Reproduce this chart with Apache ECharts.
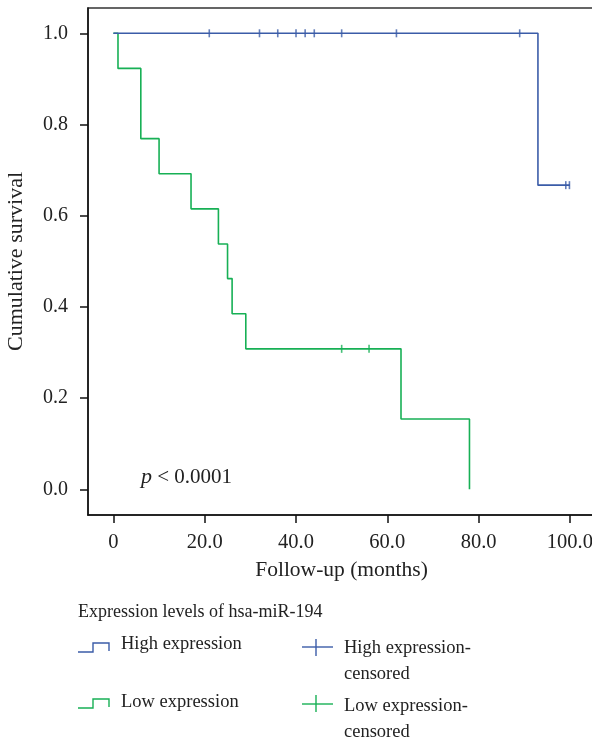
<!DOCTYPE html>
<html>
<head>
<meta charset="utf-8">
<script src="https://cdn.jsdelivr.net/npm/echarts@6/dist/echarts.min.js"></script>
<style>
html,body{margin:0;padding:0;background:#fff;}
#c{width:592px;height:737px;}
</style>
</head>
<body>
<div id="c"></div>
<script>
// Kaplan-Meier step data [month, survival]
var highSteps = [[0, 1.0], [93.0, 0.667], [100.0, 0.667]];
var highCensored = [[21, 1.0], [32, 1.0], [36, 1.0], [40, 1.0], [42, 1.0], [44, 1.0], [50, 1.0], [62, 1.0], [89, 1.0], [99.1, 0.667], [99.9, 0.667]];
var lowSteps = [[0, 1.0], [1, 0.923], [6, 0.769], [10, 0.692], [17, 0.615], [23, 0.538], [25, 0.462], [26, 0.385], [29, 0.308], [63, 0.154], [78, 0.0]];
var lowCensored = [[50, 0.308], [56, 0.308]];
var xTicks = [0, 20, 40, 60, 80, 100];
var xTickLabels = ['0', '20.0', '40.0', '60.0', '80.0', '100.0'];
var yTicks = [0, 0.2, 0.4, 0.6, 0.8, 1.0];
var yTickLabels = ['0.0', '0.2', '0.4', '0.6', '0.8', '1.0'];

var BLUE = '#3b5ca8';
var GREEN = '#17b055';
var FONT = '"Liberation Serif", "DejaVu Serif", serif';
var TXT = '#222';

var chart = echarts.init(document.getElementById('c'), null, {renderer: 'canvas'});
var xLabelMap = {}; xTicks.forEach(function(v, i){ xLabelMap[v] = xTickLabels[i]; });
var yLabelMap = {}; yTicks.forEach(function(v, i){ yLabelMap[v.toFixed(1)] = yTickLabels[i]; });

chart.setOption({
  animation: false,
  backgroundColor: '#fff',
  grid: {left: 88, top: 8, right: -3, height: 507, containLabel: false, outerBoundsMode: 'none',
         show: true, borderColor: '#333', borderWidth: 1.5, backgroundColor: 'transparent'},
  xAxis: {
    type: 'value', min: -5.57, max: 105.5,
    name: 'Follow-up (months)', nameLocation: 'middle', nameGap: 44,
    nameTextStyle: {fontFamily: FONT, fontSize: 21.5, color: TXT},
    axisLine: {show: true, onZero: false, lineStyle: {color: '#111', width: 1.5}},
    axisTick: {show: true, length: 8, inside: false, customValues: xTicks, lineStyle: {color: '#111', width: 1.5}},
    axisLabel: {customValues: xTicks, margin: 17, fontFamily: FONT, fontSize: 20.5, color: TXT,
      formatter: function(v){ return xLabelMap[Math.round(v)] || ''; }},
    splitLine: {show: false}
  },
  yAxis: {
    type: 'value', min: -0.0564, max: 1.0555,
    name: 'Cumulative survival', nameLocation: 'middle', nameGap: 61, nameRotate: 90,
    nameTextStyle: {fontFamily: FONT, fontSize: 22, color: TXT},
    axisLine: {show: true, onZero: false, lineStyle: {color: '#111', width: 1.5}},
    axisTick: {show: true, length: 8, customValues: yTicks, lineStyle: {color: '#111', width: 1.5}},
    axisLabel: {customValues: yTicks, margin: 20, fontFamily: FONT, fontSize: 20, color: TXT,
      formatter: function(v){ return yLabelMap[(Math.round(v*10)/10).toFixed(1)] || ''; }},
    splitLine: {show: false}
  },
  series: [
    {type: 'line', step: 'end', data: highSteps, showSymbol: false, symbol: 'none',
     lineStyle: {color: BLUE, width: 1.6}, z: 3},
    {type: 'line', step: 'end', data: lowSteps, showSymbol: false, symbol: 'none',
     lineStyle: {color: GREEN, width: 1.6}, z: 2},
    {type: 'scatter', data: highCensored, symbol: 'rect', symbolSize: [1.6, 8],
     itemStyle: {color: BLUE}, z: 4},
    {type: 'scatter', data: lowCensored, symbol: 'rect', symbolSize: [1.6, 8],
     itemStyle: {color: GREEN}, z: 4}
  ],
  graphic: [
    {type: 'text', left: 141, top: 466, style: {
      text: '{i|p} < 0.0001', fill: TXT,
      font: '21px ' + FONT,
      rich: {i: {fontStyle: 'italic', fontFamily: FONT, fontSize: 22, fill: TXT}}
    }},
    {type: 'text', left: 78, top: 603, style: {text: 'Expression levels of hsa-miR-194', font: '18px ' + FONT, fill: TXT}},
    // legend row 1
    {type: 'polyline', shape: {points: [[78, 652], [93, 652], [93, 643], [109, 643], [109, 651]]},
     style: {stroke: BLUE, lineWidth: 1.4, fill: null}},
    {type: 'text', left: 121, top: 635, style: {text: 'High expression', font: '18.5px ' + FONT, fill: TXT}},
    {type: 'line', shape: {x1: 302, y1: 647, x2: 333, y2: 647}, style: {stroke: BLUE, lineWidth: 1.4}},
    {type: 'line', shape: {x1: 316, y1: 639, x2: 316, y2: 656}, style: {stroke: BLUE, lineWidth: 1.4}},
    {type: 'text', left: 344, top: 635, style: {text: 'High expression-\ncensored', font: '18.5px ' + FONT, fill: TXT, lineHeight: 26}},
    // legend row 2
    {type: 'polyline', shape: {points: [[78, 708], [93, 708], [93, 699], [109, 699], [109, 707]]},
     style: {stroke: GREEN, lineWidth: 1.4, fill: null}},
    {type: 'text', left: 121, top: 693, style: {text: 'Low expression', font: '18.5px ' + FONT, fill: TXT}},
    {type: 'line', shape: {x1: 302, y1: 704, x2: 333, y2: 704}, style: {stroke: GREEN, lineWidth: 1.4}},
    {type: 'line', shape: {x1: 316, y1: 695, x2: 316, y2: 712}, style: {stroke: GREEN, lineWidth: 1.4}},
    {type: 'text', left: 344, top: 693, style: {text: 'Low expression-\ncensored', font: '18.5px ' + FONT, fill: TXT, lineHeight: 26}}
  ]
});
</script>
</body>
</html>
